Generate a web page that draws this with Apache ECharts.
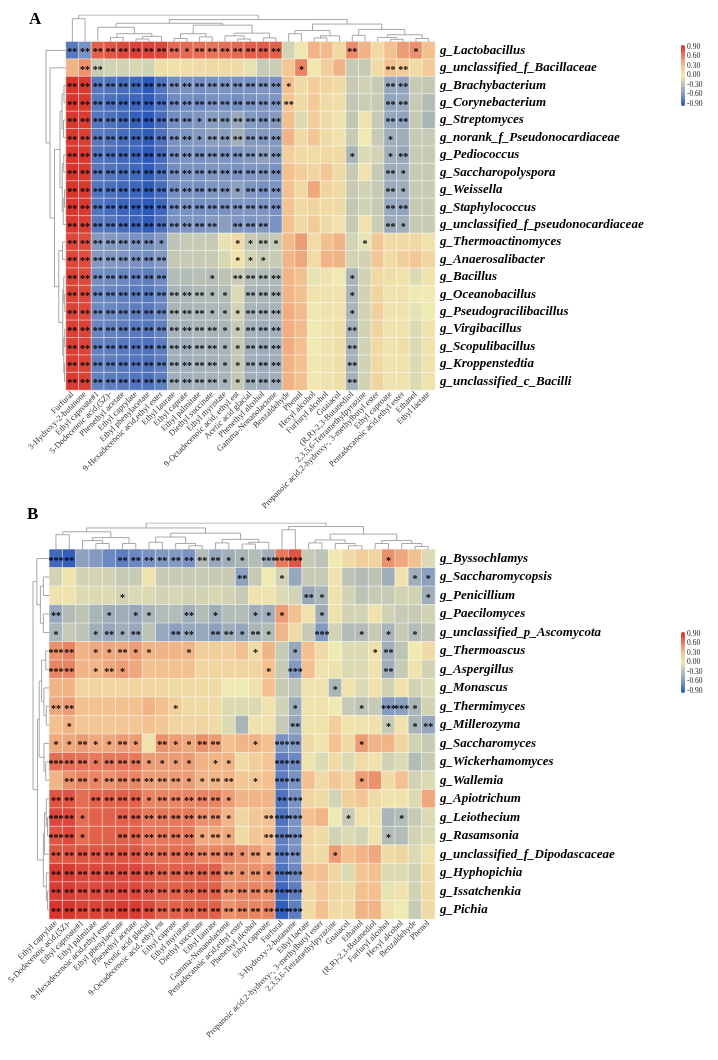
<!DOCTYPE html>
<html lang="en">
<head>
<meta charset="UTF-8">
<title>Heatmap</title>
<script src="https://cdn.jsdelivr.net/npm/echarts@6/dist/echarts.min.js"></script>
<style>
    html, body { margin: 0; padding: 0; background: #fff; }
    #chart { width: 718px; height: 1060px; }
</style>
</head>
<body>
<div id="chart"></div>
<script type="text/javascript">
// ---------- panel A : bacteria ----------
const colsA = ['Furfural', '3-Hydroxy-2-butanone', 'Ethyl caproate#1', '5-Dodecenoic acid,(5Z)-', 'Phenethyl acetate',
    'Ethyl caprylate', 'Ethyl phenylacetate', '9-Hexadecenoic acid,ethyl ester', 'Ethyl laurate', 'Ethyl caprate',
    'Ethyl palmitate', 'Diethyl succinate', 'Ethyl myristate', '9-Octadecenoic acid, ethyl est', 'Acetic acid glacial',
    'Phenethyl alcohol', 'Gamma-Nonanolactone', 'Benzaldehyde', 'Phenol', 'Hexyl alcohol', 'Furfuryl alcohol',
    'Guaiacol', '(R,R)-2,3-Butanediol', '2,3,5,6-Tetramethylpyrazine', 'Propanoic acid,2-hydroxy-, 3-methylbutyl ester',
    'Ethyl caproate', 'Pentadecanoic acid,ethyl ester', 'Ethanol', 'Ethyl lactate'];

const rowsA = ['g_Lactobacillus', 'g_unclassified_f_Bacillaceae', 'g_Brachybacterium', 'g_Corynebacterium',
    'g_Streptomyces', 'g_norank_f_Pseudonocardiaceae', 'g_Pediococcus', 'g_Saccharopolyspora', 'g_Weissella',
    'g_Staphylococcus', 'g_unclassified_f_pseudonocardiaceae', 'g_Thermoactinomyces', 'g_Anaerosalibacter',
    'g_Bacillus', 'g_Oceanobacillus', 'g_Pseudogracilibacillus', 'g_Virgibacillus', 'g_Scopulibacillus',
    'g_Kroppenstedtia', 'g_unclassified_c_Bacilli'];

const valsA = [
    [-0.72,-0.60,0.70,0.74,0.80,0.82,0.82,0.80,0.66,0.66,0.64,0.62,0.64,0.66,0.70,0.72,0.70,-0.15,0.02,0.35,0.32,0.12,0.52,0.36,0.12,0.30,0.45,0.50,0.30],
    [0.35,0.50,-0.20,-0.15,-0.15,-0.12,-0.15,0.08,0.06,0.08,0.10,0.12,0.12,0.10,-0.05,-0.20,-0.18,0.25,0.55,0.02,0.20,0.35,-0.20,-0.20,0.10,0.30,0.22,0.10,0.22],
    [0.88,0.86,-0.72,-0.74,-0.78,-0.80,-0.88,-0.74,-0.62,-0.60,-0.62,-0.60,-0.58,-0.60,-0.60,-0.58,-0.60,0.30,0.10,0.20,0.15,0.10,-0.20,-0.15,-0.20,-0.45,-0.48,-0.20,-0.22],
    [0.88,0.86,-0.72,-0.76,-0.80,-0.82,-0.86,-0.76,-0.64,-0.62,-0.64,-0.60,-0.60,-0.62,-0.60,-0.58,-0.58,0.25,0.10,0.22,0.10,0.08,-0.22,-0.18,-0.20,-0.48,-0.45,-0.20,-0.30],
    [0.86,0.85,-0.74,-0.76,-0.80,-0.84,-0.88,-0.78,-0.62,-0.60,-0.58,-0.52,-0.55,-0.45,-0.55,-0.58,-0.55,0.30,-0.10,0.20,0.10,0.05,-0.22,0.05,-0.20,-0.45,-0.48,-0.20,-0.35],
    [0.86,0.84,-0.72,-0.74,-0.78,-0.82,-0.86,-0.76,-0.60,-0.58,-0.56,-0.50,-0.52,-0.40,-0.55,-0.56,-0.55,0.35,0.10,0.25,0.10,0.05,-0.20,0.00,-0.20,-0.40,-0.40,-0.20,-0.20],
    [0.88,0.86,-0.74,-0.76,-0.80,-0.82,-0.88,-0.78,-0.62,-0.60,-0.62,-0.58,-0.60,-0.58,-0.55,-0.50,-0.55,0.20,0.10,0.10,0.12,0.10,-0.35,-0.10,-0.15,-0.40,-0.45,-0.20,-0.20],
    [0.88,0.86,-0.72,-0.74,-0.78,-0.80,-0.86,-0.76,-0.62,-0.60,-0.60,-0.58,-0.58,-0.60,-0.58,-0.58,-0.60,0.30,0.20,0.15,0.25,0.10,-0.20,0.05,-0.20,-0.42,-0.40,-0.20,-0.20],
    [0.88,0.86,-0.74,-0.76,-0.80,-0.82,-0.86,-0.78,-0.62,-0.60,-0.62,-0.58,-0.58,-0.50,-0.58,-0.60,-0.58,0.30,0.12,0.40,0.15,0.10,-0.20,-0.15,-0.20,-0.42,-0.40,-0.20,-0.20],
    [0.88,0.86,-0.74,-0.78,-0.82,-0.84,-0.88,-0.80,-0.62,-0.60,-0.62,-0.60,-0.60,-0.58,-0.58,-0.58,-0.60,0.28,0.10,0.15,0.12,0.10,-0.22,-0.15,-0.20,-0.45,-0.48,-0.20,-0.20],
    [0.86,0.84,-0.72,-0.74,-0.78,-0.82,-0.86,-0.76,-0.60,-0.58,-0.60,-0.55,-0.52,-0.58,-0.58,-0.55,-0.60,0.30,0.10,0.22,0.10,0.05,-0.20,0.05,-0.18,-0.42,-0.40,-0.20,-0.20],
    [0.80,0.78,-0.55,-0.56,-0.58,-0.60,-0.62,-0.56,-0.25,-0.20,-0.20,-0.20,-0.05,0.10,-0.20,-0.25,-0.20,0.32,0.45,0.10,0.30,0.35,-0.15,-0.05,0.25,0.10,0.10,0.12,0.05],
    [0.80,0.78,-0.55,-0.56,-0.58,-0.60,-0.62,-0.56,-0.22,-0.20,-0.20,-0.20,-0.12,0.05,-0.15,-0.20,-0.20,0.35,0.40,0.10,0.35,0.35,-0.15,-0.15,0.25,0.10,0.20,0.25,0.15],
    [0.82,0.80,-0.62,-0.64,-0.66,-0.68,-0.70,-0.64,-0.30,-0.30,-0.28,-0.30,-0.25,-0.20,-0.30,-0.32,-0.32,0.35,0.30,-0.05,0.05,0.00,-0.35,-0.15,0.12,0.08,0.05,-0.10,0.05],
    [0.82,0.80,-0.64,-0.66,-0.68,-0.70,-0.72,-0.66,-0.35,-0.35,-0.32,-0.32,-0.30,-0.10,-0.35,-0.36,-0.35,0.35,0.30,0.05,0.05,0.05,-0.35,-0.15,0.15,0.05,0.05,0.00,0.00],
    [0.82,0.80,-0.64,-0.66,-0.68,-0.70,-0.72,-0.66,-0.36,-0.36,-0.34,-0.34,-0.32,-0.15,-0.36,-0.38,-0.36,0.38,0.32,0.02,0.05,0.05,-0.35,-0.15,0.18,0.05,0.05,-0.05,0.00],
    [0.84,0.82,-0.66,-0.68,-0.70,-0.72,-0.74,-0.68,-0.38,-0.38,-0.36,-0.36,-0.34,-0.20,-0.38,-0.40,-0.38,0.38,0.32,0.00,0.05,0.08,-0.38,-0.15,0.15,0.05,0.05,-0.10,0.05],
    [0.84,0.82,-0.68,-0.70,-0.72,-0.74,-0.76,-0.70,-0.40,-0.40,-0.38,-0.38,-0.36,-0.22,-0.40,-0.42,-0.40,0.38,0.30,0.00,0.05,0.08,-0.38,-0.15,0.12,0.05,0.08,-0.10,0.05],
    [0.84,0.82,-0.68,-0.70,-0.72,-0.74,-0.76,-0.70,-0.40,-0.40,-0.38,-0.38,-0.36,-0.22,-0.40,-0.42,-0.40,0.36,0.30,0.02,0.05,0.08,-0.38,-0.15,0.12,0.05,0.05,-0.10,0.05],
    [0.85,0.83,-0.68,-0.70,-0.72,-0.74,-0.76,-0.70,-0.40,-0.40,-0.38,-0.38,-0.36,-0.22,-0.40,-0.42,-0.40,0.36,0.30,0.02,0.05,0.08,-0.38,-0.15,0.15,0.05,0.05,-0.10,0.05]
];

// number of asterisks per cell, one digit per column
const starsA = [
    '22222222212222222000002000010',
    '02200000000000000010000002200',
    '22222222222222222100000002200',
    '22222222222222222200000002200',
    '22222222221222222000000002200',
    '22222222221222222000000001000',
    '22222222222222222000001001200',
    '22222222222222222000000002100',
    '22222222222221222000000002100',
    '22222222222222222000000002200',
    '22222222222202220000000002100',
    '22222221000001121000000100000',
    '22222222000001110000000000000',
    '22222222000102222000001000000',
    '22222222222110222000001000000',
    '22222222222111222000001000000',
    '22222222222211222000002000000',
    '22222222222211222000002000000',
    '22222222222211222000002000000',
    '22222222222211222000002000000'
];

// dendrograms: [left, right, height], leaves are indices
const treeColsA = [[0, 1, 8.6],
    [[[2, [[3, 4, 1.6], [[5, 6, 1.0], 7, 2.0], 3.0], 5.4],
      [[[8, 9, 1.2], [10, 11, 1.8], 3.0], [[12, [13, 14, 1.0], 2.2], [15, 16, 1.4], 3.2], 6.2], 6.9],
     [[[17, 18, 3.0], [[19, 20, 1.4], 21, 2.2], 4.2],
      [[22, 23, 2.4], [[24, [25, 26, 0.9], 1.6], [27, 28, 1.2], 2.6], 4.6], 6.6], 8.3], 10];
const treeRowsA = [0, [1, [
    [[[2, 3, 0.8], [4, 5, 1.0], 1.6], [[6, 7, 0.9], [[8, 9, 0.6], 10, 1.1], 1.5], 2.4],
    [[11, 12, 1.4], [[13, [14, 15, 0.5], 0.9], [[16, 17, 0.5], [18, 19, 0.6], 0.9], 1.3], 2.9], 4.6], 6.4], 8];

// ---------- panel B : fungi ----------
const colsB = ['Ethyl caprylate', '5-Dodecenoic acid,(5Z)-', 'Ethyl caproate#1', 'Ethyl palmitate',
    '9-Hexadecenoic acid,ethyl ester', 'Ethyl phenylacetate', 'Phenethyl acetate', 'Acetic acid glacial',
    '9-Octadecenoic acid, ethyl est', 'Ethyl caprate', 'Ethyl myristate', 'Diethyl succinate', 'Ethyl laurate',
    'Gamma-Nonanolactone', 'Pentadecanoic acid,ethyl ester', 'Phenethyl alcohol', 'Ethyl caproate', 'Furfural',
    '3-Hydroxy-2-butanone', 'Ethyl lactate', 'Propanoic acid,2-hydroxy-, 3-methylbutyl ester',
    '2,3,5,6-Tetramethylpyrazine', 'Guaiacol', 'Ethanol', '(R,R)-2,3-Butanediol', 'Furfuryl alcohol',
    'Hexyl alcohol', 'Benzaldehyde', 'Phenol'];

const rowsB = ['g_Byssochlamys', 'g_Saccharomycopsis', 'g_Penicillium', 'g_Paecilomyces',
    'g_unclassified_p_Ascomycota', 'g_Thermoascus', 'g_Aspergillus', 'g_Monascus', 'g_Thermimyces',
    'g_Millerozyma', 'g_Saccharomyces', 'g_Wickerhamomyces', 'g_Wallemia', 'g_Apiotrichum', 'g_Leiothecium',
    'g_Rasamsonia', 'g_unclassified_f_Dipodascaceae', 'g_Hyphopichia', 'g_Issatchenkia', 'g_Pichia'];

const valsB = [
    [-0.80,-0.85,-0.50,-0.55,-0.65,-0.70,-0.65,-0.60,-0.55,-0.55,-0.60,-0.30,-0.45,-0.40,-0.35,-0.30,-0.40,0.60,0.75,-0.20,-0.25,0.00,0.10,0.20,0.15,0.50,0.40,0.30,-0.10],
    [-0.15,0.05,-0.15,-0.15,-0.15,-0.20,-0.20,0.05,-0.20,-0.20,-0.20,-0.20,-0.20,-0.20,-0.50,-0.20,0.00,-0.15,-0.45,-0.20,-0.20,0.05,-0.25,-0.30,-0.25,-0.40,0.05,-0.40,-0.50],
    [0.05,0.05,-0.10,-0.10,-0.10,-0.15,-0.10,-0.10,-0.15,-0.12,-0.15,-0.15,-0.12,-0.15,-0.20,0.05,0.05,-0.10,-0.15,-0.45,-0.35,0.05,-0.15,-0.25,-0.20,-0.20,-0.15,-0.15,-0.40],
    [-0.45,-0.30,-0.25,-0.35,-0.40,-0.40,-0.45,-0.35,-0.30,-0.30,-0.40,-0.30,-0.40,-0.30,-0.30,-0.40,-0.40,0.45,0.30,0.05,-0.40,0.05,-0.15,-0.15,0.05,-0.15,-0.20,-0.20,-0.15],
    [-0.35,-0.20,-0.25,-0.40,-0.45,-0.40,-0.45,-0.25,-0.45,-0.50,-0.45,-0.45,-0.50,-0.40,-0.45,-0.35,-0.30,0.35,0.10,-0.20,-0.55,-0.15,-0.30,-0.30,-0.20,-0.35,-0.20,-0.30,-0.25],
    [0.50,0.55,0.35,0.40,0.40,0.40,0.45,0.35,0.35,0.35,0.35,0.20,0.20,0.20,0.30,0.10,0.35,-0.20,-0.45,0.30,0.10,0.00,-0.10,-0.10,0.05,-0.40,-0.25,0.00,0.10],
    [0.55,0.55,0.35,0.35,0.40,0.45,0.40,0.30,0.30,0.30,0.30,0.15,0.15,0.15,0.15,0.15,0.30,-0.20,-0.55,0.30,0.05,0.05,-0.10,-0.10,0.05,-0.40,-0.20,0.05,-0.15],
    [0.35,0.35,0.15,0.15,0.15,0.15,0.15,0.15,0.15,0.10,0.10,0.10,0.10,0.00,0.00,0.05,0.30,-0.20,-0.25,0.05,0.05,-0.35,0.05,-0.10,0.05,-0.15,0.05,-0.15,-0.10],
    [0.40,0.45,0.30,0.30,0.30,0.30,0.30,0.35,0.30,0.20,0.10,0.10,0.10,-0.10,-0.10,-0.10,0.05,-0.15,-0.40,0.05,0.05,0.00,-0.20,-0.25,-0.20,-0.55,-0.50,-0.35,-0.15],
    [0.30,0.35,0.25,0.25,0.25,0.25,0.25,0.30,0.25,0.15,0.15,0.15,0.10,-0.10,-0.35,0.05,0.05,-0.20,-0.45,0.05,0.05,0.20,0.05,0.05,0.05,-0.20,0.05,-0.35,-0.45],
    [0.40,0.40,0.45,0.40,0.40,0.45,0.45,0.05,0.50,0.45,0.40,0.50,0.45,0.30,0.35,0.35,0.30,-0.60,-0.55,0.10,0.05,0.30,0.10,0.45,0.35,0.35,0.15,-0.15,-0.20],
    [0.65,0.65,0.62,0.60,0.60,0.60,0.60,0.45,0.45,0.45,0.45,0.35,0.35,0.35,0.10,0.20,0.25,-0.70,-0.65,0.05,-0.10,0.10,-0.10,0.10,0.05,-0.15,-0.10,-0.30,-0.20],
    [0.35,0.50,0.55,0.55,0.50,0.55,0.55,0.45,0.45,0.45,0.45,0.35,0.35,0.35,0.25,0.25,0.30,-0.70,-0.60,0.30,0.10,0.25,0.15,0.45,0.50,0.10,0.30,-0.15,-0.10],
    [0.75,0.75,0.65,0.70,0.70,0.70,0.70,0.55,0.55,0.55,0.55,0.55,0.55,0.45,0.35,0.35,0.35,-0.75,-0.60,0.15,0.10,-0.15,0.20,0.25,0.10,0.05,0.05,-0.10,0.40],
    [0.80,0.80,0.65,0.70,0.70,0.70,0.70,0.60,0.60,0.60,0.60,0.50,0.50,0.35,0.15,0.25,0.30,-0.75,-0.60,0.30,0.35,0.00,-0.20,0.05,0.05,-0.35,-0.30,-0.20,-0.10],
    [0.75,0.80,0.65,0.70,0.70,0.70,0.70,0.60,0.60,0.60,0.60,0.40,0.40,0.40,0.10,0.25,0.30,-0.70,-0.60,0.15,0.10,-0.15,-0.10,-0.15,0.05,-0.30,-0.30,-0.15,-0.10],
    [0.75,0.75,0.75,0.75,0.75,0.75,0.75,0.65,0.65,0.65,0.65,0.55,0.55,0.55,0.50,0.45,0.35,-0.70,-0.60,0.15,0.10,0.45,0.30,0.35,0.40,0.10,0.15,-0.10,0.05],
    [0.85,0.85,0.80,0.80,0.80,0.80,0.80,0.75,0.70,0.70,0.70,0.70,0.70,0.50,0.50,0.50,0.50,-0.75,-0.65,0.30,0.30,0.15,-0.10,0.25,0.30,-0.10,-0.10,-0.15,0.10],
    [0.85,0.85,0.80,0.80,0.80,0.80,0.80,0.75,0.70,0.70,0.70,0.70,0.70,0.50,0.55,0.55,0.50,-0.80,-0.70,0.15,0.25,0.15,0.10,0.30,0.30,-0.05,0.05,-0.15,0.10],
    [0.88,0.88,0.82,0.82,0.82,0.85,0.85,0.80,0.70,0.70,0.70,0.70,0.70,0.50,0.55,0.55,0.55,-0.85,-0.70,0.10,0.30,0.10,0.10,0.35,0.35,0.05,0.00,-0.20,0.10]
];

const starsB = [
    '32000222222221103330000001000',
    '00000000000000200100000000011',
    '00000100000000000002100000001',
    '20001011002010011100100000000',
    '10012120022022121000300101010',
    '32011211001000010010000012000',
    '32012100000000001030000002000',
    '00000000000000000000010000000',
    '22000000010000000010000103310',
    '01000000000000000020000001012',
    '11211210211220010320000100000',
    '32212221111011000320000000000',
    '02212222221122010320000100000',
    '22022221222221000230000000000',
    '32100222222221002330001000100',
    '32100222222121002330000001000',
    '22222222222222121320010000000',
    '22222222222222121330000000000',
    '22222222222222222330000000000',
    '22222222222222222330000000000'
];

const treeColsB = [
    [[[0, 1, 5.0], [[2, [3, 4, 2.0], 3.0], [5, 6, 2.0], 4.0], 6.0],
     [[[7, 8, 2.4], [9, [10, 11, 1.2], 2.0], 4.2], [[12, 13, 2.2], [[14, 15, 1.8], 16, 2.4], 3.4], 5.5], 7.3],
    [[17, 18, 6.7], [[[19, 20, 2.2], [21, [22, 23, 1.2], 2.0], 3.2], [[24, 25, 2.0], [26, [27, 28, 1.0], 2.0], 3.0], 5.2], 7.8],
    9];
const treeRowsB = [[0, [[1, 2, 2.0], [3, 4, 2.0], 3.0], 4.2],
    [[[[5, 6, 1.2], [7, [8, 9, 1.0], 1.8], 2.6], [10, [11, 12, 1.2], 1.8], 3.4],
     [[[13, [14, 15, 0.6], 1.0], 16, 1.6], [17, [18, 19, 0.6], 1.0], 2.0], 4.0], 5.5];

const legendTicks = { min: -0.9, max: 0.9, step: 0.3 };

// ---------- drawing ----------
const SERIF = 'Liberation Serif';
const rampColors = ['#2554b8', '#7a92c2', '#b3bcb6', '#efe9b2', '#f3c08f', '#e7795a', '#d6302b'];

function toCells(vals) {
    const out = [];
    vals.forEach((row, r) => row.forEach((v, c) => out.push([c, r, v])));
    return out;
}

// turn a nested tree into polyline segments (leaf index, height)
function dendro(tree, sideways) {
    const segs = [];
    function walk(n) {
        if (typeof n === 'number') return [n, 0];
        const a = walk(n[0]), b = walk(n[1]), h = n[2];
        let pts = [[a[0], a[1]], [a[0], h], [b[0], h], [b[0], b[1]]];
        if (sideways) pts = pts.map(p => [p[1], p[0]]);
        segs.push({ coords: pts });
        return [(a[0] + b[0]) / 2, h];
    }
    walk(tree);
    return segs;
}

function heatSeries(cells, stars, idx) {
    return {
        type: 'heatmap', xAxisIndex: idx, yAxisIndex: idx, data: cells,
        itemStyle: { borderColor: 'rgba(255,255,255,0.6)', borderWidth: 0.8 },
        label: {
            show: true, color: '#000', fontSize: 10, fontWeight: 'bold', fontFamily: SERIF,
            offset: [0, 2.5],
            formatter: p => '*'.repeat(+(stars[p.value[1]][p.value[0]] || 0))
        },
        emphasis: { disabled: true }
    };
}

function lineSeries(tree, sideways, idx) {
    return {
        type: 'lines', coordinateSystem: 'cartesian2d', xAxisIndex: idx, yAxisIndex: idx,
        polyline: true, silent: true, data: dendro(tree, sideways),
        lineStyle: { color: '#9d9d9d', width: 0.9, opacity: 1 }
    };
}

function catX(grid, cats) {
    return {
        type: 'category', gridIndex: grid, data: cats, position: 'bottom',
        axisLine: { show: false }, axisTick: { show: false }, splitArea: { show: false },
        axisLabel: { interval: 0, rotate: 45, fontSize: 8.5, fontFamily: SERIF, color: '#333', margin: 3 }
    };
}

function catY(grid, cats) {
    return {
        type: 'category', gridIndex: grid, data: cats, inverse: true, position: 'right',
        axisLine: { show: false }, axisTick: { show: false }, splitArea: { show: false },
        axisLabel: { interval: 0, fontSize: 13, fontFamily: SERIF, fontStyle: 'italic', fontWeight: 'bold',
            color: '#000', margin: 5 }
    };
}

function hidden(grid, min, max, inverse) {
    return { type: 'value', gridIndex: grid, min: min, max: max, inverse: !!inverse, show: false,
        splitLine: { show: false } };
}

function legendAxis(grid) {
    return {
        type: 'value', gridIndex: grid, position: 'right',
        min: legendTicks.min, max: legendTicks.max, interval: legendTicks.step,
        axisLine: { show: false }, axisTick: { show: false }, splitLine: { show: false },
        axisLabel: { fontSize: 7.5, fontFamily: SERIF, color: '#222', margin: 2,
            formatter: v => (Math.abs(v) < 1e-6 ? 0 : v).toFixed(2) }
    };
}

const chart = echarts.init(document.getElementById('chart'));

chart.setOption({
    animation: false,
    backgroundColor: '#fff',
    title: [
        { text: 'A', left: 29, top: 11, padding: 0,
            textStyle: { fontFamily: SERIF, fontSize: 17, fontWeight: 'bold', color: '#000' } },
        { text: 'B', left: 27, top: 506, padding: 0,
            textStyle: { fontFamily: SERIF, fontSize: 17, fontWeight: 'bold', color: '#000' } }
    ],
    grid: [
        { left: 66, top: 41.7, width: 369, height: 348.3 },     // 0 heat A
        { left: 66, top: 15, width: 369, height: 26.7 },        // 1 col tree A
        { left: 46, top: 41.7, width: 20, height: 348.3 },      // 2 row tree A
        { left: 681, top: 47, width: 4, height: 57 },          // 3 legend A
        { left: 49.3, top: 549.3, width: 385.7, height: 369.7 }, // 4 heat B
        { left: 49.3, top: 523, width: 385.7, height: 26.3 },   // 5 col tree B
        { left: 33, top: 549.3, width: 16.3, height: 369.7 },   // 6 row tree B
        { left: 681, top: 634, width: 4, height: 57 }          // 7 legend B
    ],
    xAxis: [
        catX(0, colsA),
        hidden(1, -0.5, colsA.length - 0.5),
        hidden(2, 0, treeRowsA[2], true),
        hidden(3, 0, 1),
        catX(4, colsB),
        hidden(5, -0.5, colsB.length - 0.5),
        hidden(6, 0, treeRowsB[2], true),
        hidden(7, 0, 1)
    ],
    yAxis: [
        catY(0, rowsA),
        hidden(1, 0, treeColsA[2]),
        hidden(2, -0.5, rowsA.length - 0.5, true),
        legendAxis(3),
        catY(4, rowsB),
        hidden(5, 0, treeColsB[2]),
        hidden(6, -0.5, rowsB.length - 0.5, true),
        legendAxis(7)
    ],
    visualMap: [
        { type: 'continuous', seriesIndex: 0, min: -0.9, max: 0.9, left: 681, top: 45, itemWidth: 4, itemHeight: 61,
            padding: 0, calculable: false, inRange: { color: rampColors } },
        { type: 'continuous', seriesIndex: 1, min: -0.9, max: 0.9, left: 681, top: 632, itemWidth: 4, itemHeight: 61,
            padding: 0, calculable: false, inRange: { color: rampColors } }
    ],
    series: [
        heatSeries(toCells(valsA), starsA, 0),
        heatSeries(toCells(valsB), starsB, 4),
        lineSeries(treeColsA, false, 1),
        lineSeries(treeRowsA, true, 2),
        lineSeries(treeColsB, false, 5),
        lineSeries(treeRowsB, true, 6)
    ]
});
</script>
</body>
</html>
